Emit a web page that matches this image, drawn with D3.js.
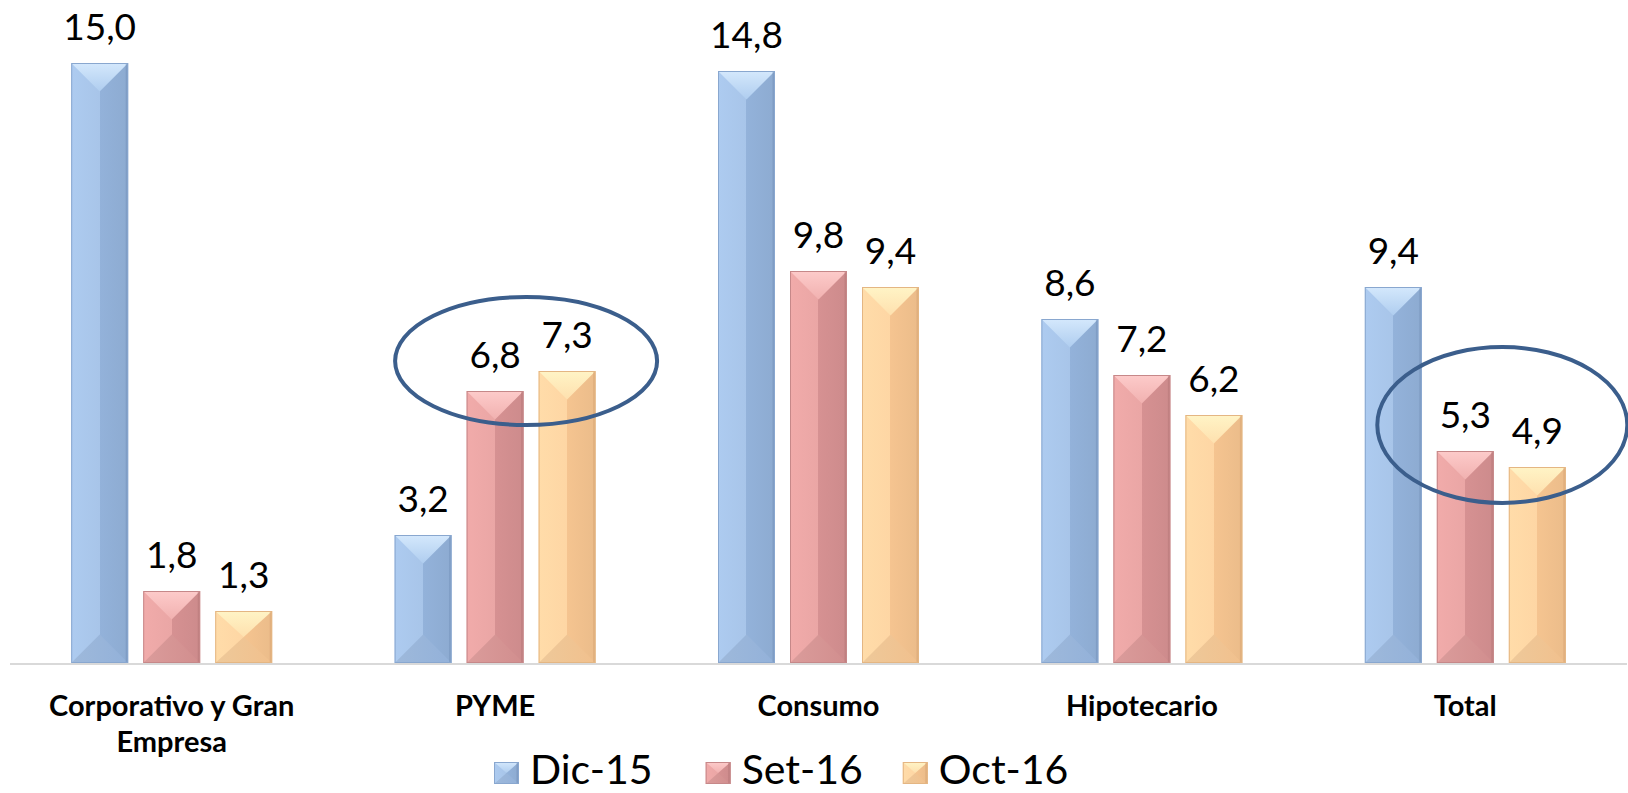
<!DOCTYPE html>
<html><head><meta charset="utf-8">
<script src="https://cdn.jsdelivr.net/npm/d3@7"></script>
<style>
body{margin:0;background:#fff;}
svg{display:block;font-family:Lato,'Open Sans',sans-serif;}
</style>
</head><body>
<svg id="chart" width="1628" height="793"></svg>
<script>
// ---- data ----
const categories = ["Corporativo y Gran Empresa", "PYME", "Consumo", "Hipotecario", "Total"];
const categoryLines = [["Corporativo y Gran", "Empresa"], ["PYME"], ["Consumo"], ["Hipotecario"], ["Total"]];
const seriesNames = ["Dic-15", "Set-16", "Oct-16"];
const dic15 = [15.0, 3.2, 14.8, 8.6, 9.4];
const set16 = [1.8, 6.8, 9.8, 7.2, 5.3];
const oct16 = [1.3, 7.3, 9.4, 6.2, 4.9];
const highlighted = ["PYME", "Total"];

// ---- styles ----
const styles = [
  {L:"#a8c5e9", R:"#93b2da", T1:"#d4e8fc", T2:"#afcdef", B:"#93b1d9", E:"#7592ba", S:"#89a7cf"},
  {L:"#eaa6a5", R:"#d69192", T1:"#fdcbca", T2:"#f1b1b0", B:"#d18e8e", E:"#b67879", S:"#c68889"},
  {L:"#fed6a4", R:"#f5c490", T1:"#fff4c6", T2:"#fee0ae", B:"#f1c08d", E:"#d8a574", S:"#e4b683"}
];
const fmt = v => d3.format(".1f")(v).replace(".", ",");

const svg = d3.select("#chart");
const defs = svg.append("defs");
styles.forEach((s, i) => {
  const gb = defs.append("linearGradient").attr("id", "body" + i).attr("x1", 0).attr("x2", 1).attr("y1", 0).attr("y2", 0);
  gb.append("stop").attr("offset", "0%").attr("stop-color", d3.color(s.L).brighter(0.08));
  gb.append("stop").attr("offset", "50%").attr("stop-color", s.L);
  gb.append("stop").attr("offset", "50%").attr("stop-color", s.R);
  gb.append("stop").attr("offset", "100%").attr("stop-color", d3.color(s.R).darker(0.12));
  const gt = defs.append("linearGradient").attr("id", "top" + i).attr("x1", 0).attr("x2", 0).attr("y1", 0).attr("y2", 1);
  gt.append("stop").attr("offset", "0%").attr("stop-color", s.T1);
  gt.append("stop").attr("offset", "100%").attr("stop-color", s.T2);
  const gbo = defs.append("linearGradient").attr("id", "bot" + i).attr("x1", 0).attr("x2", 1).attr("y1", 0).attr("y2", 0);
  gbo.append("stop").attr("offset", "0%").attr("stop-color", d3.color(s.L).darker(0.18));
  gbo.append("stop").attr("offset", "100%").attr("stop-color", s.B);
});

// ---- scales ----
const x0 = d3.scaleBand().domain(categories).range([10, 1627]).paddingInner(0).paddingOuter(0);
const groupW = 216;
const x1 = d3.scaleBand().domain(seriesNames).range([0, groupW]).paddingInner(15/72).paddingOuter(15/144);
const y = d3.scaleLinear().domain([0, 16]).range([663, 23]);

const series = [dic15, set16, oct16];
const rows = [];
categories.forEach((c, ci) => {
  seriesNames.forEach((s, si) => rows.push({cat: c, ci, s, si, v: series[si][ci]}));
});
const bx = d => x0(d.cat) + (x0.bandwidth() - groupW) / 2 + x1(d.s);

function bevel(g, x, yTop, w, h, si) {
  const s = styles[si];
  const d = Math.min(w / 2, h / 2);
  g.append("rect").attr("x", x).attr("y", yTop).attr("width", w).attr("height", h)
    .attr("fill", `url(#body${si})`);
  g.append("path").attr("d", `M${x},${yTop}L${x + w},${yTop}L${x + w / 2},${yTop + d}Z`)
    .attr("fill", `url(#top${si})`);
  g.append("path").attr("d", `M${x},${yTop + h}L${x + w},${yTop + h}L${x + w / 2},${yTop + h - d}Z`)
    .attr("fill", `url(#bot${si})`);
  g.append("rect").attr("x", x + w - 2.5).attr("y", yTop + 1).attr("width", 2).attr("height", Math.max(0, h - 2))
    .attr("fill", s.E).attr("opacity", 0.55);
  g.append("rect").attr("x", x + 0.5).attr("y", yTop + 0.5).attr("width", w - 1).attr("height", h - 1)
    .attr("fill", "none").attr("stroke", s.S).attr("stroke-width", 1);
}

// ---- bars ----
const barG = svg.append("g");
rows.forEach(d => {
  const g = barG.append("g");
  bevel(g, bx(d), y(d.v), x1.bandwidth(), y(0) - y(d.v), d.si);
});

// ---- axis line ----
svg.append("line").attr("x1", x0.range()[0]).attr("x2", x0.range()[1])
  .attr("y1", y(0) + 1).attr("y2", y(0) + 1).attr("stroke", "#d9d9d9").attr("stroke-width", 2);

// ---- value labels ----
svg.append("g").selectAll("text").data(rows).join("text")
  .attr("x", d => bx(d) + x1.bandwidth() / 2)
  .attr("y", d => y(d.v) - 23)
  .attr("text-anchor", "middle")
  .attr("font-size", 37).attr("fill", "#000")
  .text(d => fmt(d.v));

// ---- category labels ----
const catG = svg.append("g");
categories.forEach((c, ci) => {
  const t = catG.append("text")
    .attr("x", x0(c) + x0.bandwidth() / 2).attr("y", y(0) + 53)
    .attr("text-anchor", "middle").attr("font-size", 29).attr("font-weight", "bold").attr("fill", "#000");
  categoryLines[ci].forEach((ln, li) => {
    t.append("tspan").attr("x", x0(c) + x0.bandwidth() / 2).attr("dy", li === 0 ? 0 : 36).text(ln);
  });
});

// ---- highlight ellipses ----
const ellipseSpecs = [
  {cat: "PYME", v: 7.55, dx: -5, rx: 131, ry: 64},
  {cat: "Total", v: 5.95, dx: 1, rx: 125, ry: 78}
];
ellipseSpecs.filter(e => highlighted.includes(e.cat)).forEach(e => {
  const cx = (bx({cat: e.cat, s: seriesNames[1]}) + bx({cat: e.cat, s: seriesNames[2]})) / 2 + x1.bandwidth() / 2 + e.dx;
  svg.append("ellipse").attr("cx", cx).attr("cy", y(e.v)).attr("rx", e.rx).attr("ry", e.ry)
    .attr("fill", "none").attr("stroke", "#3b5e8c").attr("stroke-width", 4);
});

// ---- legend ----
const leg = svg.append("g");
const legendGaps = [53, 40, 0];
let lx = 494;
seriesNames.forEach((s, si) => {
  const g = leg.append("g");
  bevel(g, lx, 762, 25, 22, si);
  const t = g.append("text").attr("x", lx + 36).attr("y", 784).attr("font-size", 41).attr("fill", "#000").text(s);
  lx += 36 + t.node().getComputedTextLength() + legendGaps[si];
});
</script>
</body></html>
